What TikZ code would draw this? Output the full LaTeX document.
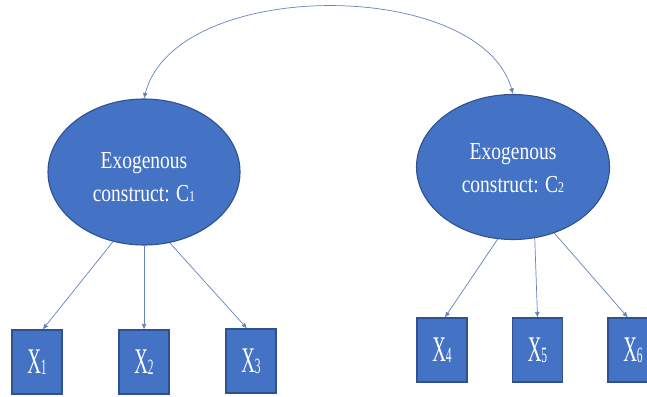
\documentclass[tikz,border=0pt]{standalone}
\usepackage{fontspec}
\setmainfont{Liberation Serif}
\usepackage{graphicx}
\usetikzlibrary{shapes.geometric,arrows.meta}

\definecolor{blockfill}{HTML}{4472C4}
\definecolor{blockedge}{HTML}{2F528F}
\definecolor{linkcol}{HTML}{6583BD}

% small index digit set next to a letter
\newcommand{\idx}[2]{{\fontsize{#1}{#1}\selectfont\raisebox{-0.6pt}{#2}}}
% construct label: two lines, stretched vertically
\newcommand{\constructlabel}[1]{%
  \scalebox{1}[1.25]{\fontsize{19.5}{26.4}\selectfont
    \begin{tabular}{@{}c@{}}Exogenous\\construct: C\idx{12}{#1}\end{tabular}}}
% indicator label, stretched vertically
\newcommand{\itemlabel}[1]{%
  \scalebox{1}[1.9]{\fontsize{19}{19}\selectfont X\idx{11.5}{#1}}}

\tikzset{
  construct/.style={ellipse, draw=blockedge, line width=1.1pt, fill=blockfill,
    inner sep=0pt},
  constructtext/.style={text=white, inner sep=0pt},
  item/.style={rectangle, draw=blockedge, line width=1.1pt, fill=blockfill,
    text=white, inner sep=0pt, minimum width=50pt, minimum height=64pt},
  link/.style={draw=linkcol, line width=0.7pt,
    -{Latex[length=5.5pt,width=5pt]}},
  biglink/.style={draw=linkcol, line width=0.7pt,
    {Latex[length=5.5pt,width=5pt]}-{Latex[length=5.5pt,width=5pt]}},
}

\begin{document}
\begin{tikzpicture}[x=1pt,y=-1pt]
  \useasboundingbox (0,0) rectangle (647,396);
  \fill[white] (0,0) rectangle (647,396);
  \clip (0,0) rectangle (647,396);

  % latent constructs
  \node[construct, minimum width=192pt, minimum height=146pt] (c1) at (144,172) {};
  \node[construct, minimum width=193pt, minimum height=145pt] (c2) at (513,167) {};
  \node[constructtext, yshift=-6pt] (t1) at (c1.center) {\constructlabel{1}};
  \node[constructtext, yshift=-2pt] (t2) at (c2.center) {\constructlabel{2}};

  % indicators
  \node[item] (x1) at (37,362)    {\itemlabel{1}};
  \node[item] (x2) at (144,362)   {\itemlabel{2}};
  \node[item] (x3) at (251,361)   {\itemlabel{3}};
  \node[item] (x4) at (442,350)   {\itemlabel{4}};
  \node[item] (x5) at (537.5,350) {\itemlabel{5}};
  \node[item] (x6) at (633,350)   {\itemlabel{6}};

  % covariance between the constructs
  \draw[biglink] (c1.90) .. controls (175,-23) and (480,-23) .. (c2.90);

  % loadings
  \draw[link] (c1.246) -- (x1.80);
  \draw[link] (c1.south) -- (x2.north);
  \draw[link] (c1.290) -- (x3.97);
  \draw[link] (c2.258) -- (x4.85);
  \draw[link] (c2.287) -- (x5.north);
  \draw[link] (c2.302) -- (x6.99);
\end{tikzpicture}
\end{document}
